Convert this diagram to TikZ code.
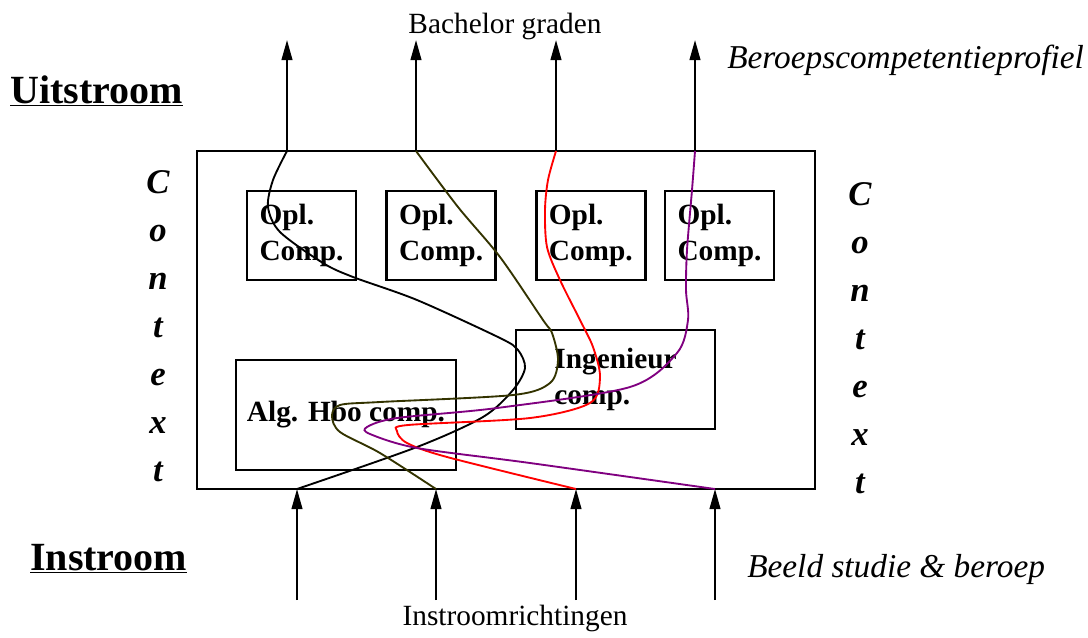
\documentclass[tikz,border=0pt]{standalone}
\usepackage{fontspec}
\setmainfont{Liberation Serif}
\usetikzlibrary{positioning,arrows.meta}
\definecolor{routeolive}{RGB}{51,51,0}
\definecolor{routepurple}{RGB}{128,0,128}
\tikzstyle{comp box}=[draw,line width=2pt,align=left,inner sep=0pt,font=\fontsize{22}{26.5}\selectfont\bfseries]
\tikzstyle{flow arrow}=[-{Triangle[length=15pt,width=8pt]},line width=1.5pt]
\tikzstyle{route}=[line width=1.4pt]
\tikzstyle{context}=[align=center,inner sep=0pt,anchor=north,font=\fontsize{26}{36}\selectfont\bfseries\itshape]
\newcommand{\compnode}[3][]{
  \node [comp box, #1] (#2) {#3}
}
\newcommand{\labelnode}[3][]{
  \node [inner sep=0pt, #1] (#2) {#3}
}

\begin{document}
\begin{tikzpicture}[x=0.75pt,y=-0.75pt]
        \useasboundingbox (0,0) rectangle (1088,637);
        \node [draw,line width=1.5pt,minimum width=463.5pt,minimum height=253.5pt] (frame) at (506,320) {};

        \compnode[minimum width=81.75pt,minimum height=66.75pt,at={(301.5,235.5)}]{opl1}{Opl.\\Comp.};
        \compnode[minimum width=81.75pt,minimum height=66.75pt,right=21pt of opl1]{opl2}{Opl.\\Comp.};
        \compnode[minimum width=81.75pt,minimum height=66.75pt,right=28.5pt of opl2]{opl3}{Opl.\\Comp.};
        \compnode[minimum width=81.75pt,minimum height=66.75pt,right=12.75pt of opl3]{opl4}{Opl.\\Comp.};
        \compnode[minimum width=165pt,minimum height=82.5pt,at={(346,415)}]{hbo}{Alg. Hbo comp.};
        \compnode[minimum width=149.25pt,minimum height=74.25pt,at={(615.5,379.5)}]{ing}{Ingenieur\\comp.};

        \labelnode[anchor=base,at={(505,33)},font=\fontsize{22}{26}\selectfont]{bachelor}{Bachelor graden};
        \labelnode[anchor=base west,at={(10,103)},font=\fontsize{30}{34}\selectfont\bfseries]{uit}{\underline{Uitstroom}};
        \labelnode[anchor=base west,at={(30,570)},font=\fontsize{30}{34}\selectfont\bfseries]{in}{\underline{Instroom}};
        \labelnode[anchor=base west,at={(727,68)},font=\fontsize{25}{29}\selectfont\itshape]{profiel}{Beroepscompetentieprofiel};
        \labelnode[anchor=base west,at={(747,577)},font=\fontsize{25}{29}\selectfont\itshape]{beeld}{Beeld studie \& beroep};
        \labelnode[anchor=base,at={(515,625)},font=\fontsize{22}{26}\selectfont]{richting}{Instroomrichtingen};
        \node [context] (ctxleft) at (158,170) {C\\o\\n\\t\\e\\x\\t};
        \node [context] (ctxright) at (860,182) {C\\o\\n\\t\\e\\x\\t};

        \coordinate (in1) at (297,489);
        \coordinate (in2) at (436,489);
        \coordinate (in3) at (576,489);
        \coordinate (in4) at (715,489);
        \coordinate (src1) at (297,600);
        \coordinate (src2) at (436,600);
        \coordinate (src3) at (576,600);
        \coordinate (src4) at (715,600);
        \coordinate (out1) at (287,151);
        \coordinate (out2) at (416,151);
        \coordinate (out3) at (556,151);
        \coordinate (out4) at (695,151);
        \coordinate (end1) at (287,40);
        \coordinate (end2) at (416,40);
        \coordinate (end3) at (556,40);
        \coordinate (end4) at (695,40);

        \draw[flow arrow] (src1) -- (in1);
        \draw[flow arrow] (src2) -- (in2);
        \draw[flow arrow] (src3) -- (in3);
        \draw[flow arrow] (src4) -- (in4);
        \draw[flow arrow] (out1) -- (end1);
        \draw[flow arrow] (out2) -- (end2);
        \draw[flow arrow] (out3) -- (end3);
        \draw[flow arrow] (out4) -- (end4);

        \draw[route,black] plot[smooth,tension=0.5] coordinates {(in1) (417,447) (483,417) (513,390) (525,368) (518,350) (500,338) (417,300) (353,277) (323,263) (280,232) (268,207) (273,180) (out1)};
        \draw[route,routeolive] plot[smooth,tension=0.5] coordinates {(in2) (380,453) (340,432) (332,416) (340,405) (380,402) (513,395) (550,383) (558,360) (552,333) (543,320) (500,257) (458,207) (out2)};
        \draw[route,red] plot[smooth,tension=0.5] coordinates {(in3) (447,457) (407,443) (397,431) (408,425) (530,418) (590,403) (600,377) (593,347) (580,320) (560,280) (547,247) (545,210) (548,180) (out3)};
        \draw[route,routepurple] plot[smooth,tension=0.5] coordinates {(in4) (530,463) (417,448) (370,434) (367,427) (397,418) (497,408) (630,387) (677,353) (688,320) (686,290) (687,250) (692,190) (out4)};
\end{tikzpicture}
\end{document}
